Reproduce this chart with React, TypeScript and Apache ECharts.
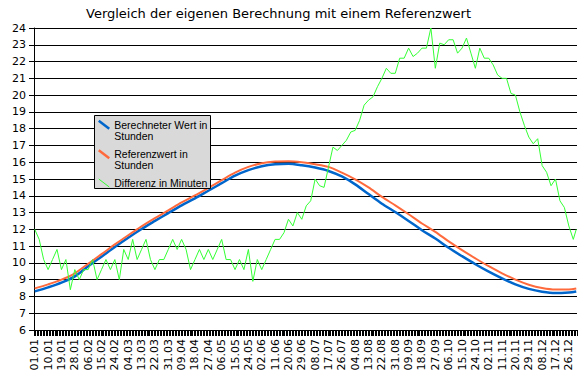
import React, { useEffect, useRef } from "react";
import * as echarts from "echarts";

// leap year calendar (29.02 included)
const monthLengths = [31, 29, 31, 30, 31, 30, 31, 31, 30, 31, 30, 31];
const categories: string[] = [];
monthLengths.forEach((len, m) => {
  for (let d = 1; d <= len; d++) {
    categories.push(String(d).padStart(2, "0") + "." + String(m + 1).padStart(2, "0"));
  }
});

const titleText = "Vergleich der eigenen Berechnung mit einem Referenzwert";
const seriesNames = ["Berechneter Wert in Stunden", "Referenzwert in Stunden", "Differenz in Minuten"];

// smooth curves, read every 9 days (+ last day)
const curveDays = [0, 9, 18, 27, 36, 45, 54, 63, 72, 81, 90, 99, 108, 117, 126, 135, 144, 153, 162, 171, 180, 189, 198, 207, 216, 225, 234, 243, 252, 261, 270, 279, 288, 297, 306, 315, 324, 333, 342, 351, 360, 365];
const computed = [8.30, 8.54, 8.82, 9.20, 9.80, 10.37, 10.95, 11.50, 12.02, 12.50, 12.97, 13.43, 13.85, 14.30, 14.75, 15.20, 15.53, 15.76, 15.88, 15.91, 15.82, 15.68, 15.48, 15.15, 14.68, 14.10, 13.53, 13.03, 12.50, 11.95, 11.45, 10.90, 10.40, 9.92, 9.48, 9.08, 8.72, 8.45, 8.28, 8.20, 8.24, 8.30];
const reference = [8.48, 8.72, 9.00, 9.38, 9.95, 10.52, 11.10, 11.65, 12.18, 12.67, 13.13, 13.60, 14.02, 14.47, 14.93, 15.38, 15.72, 15.94, 16.04, 16.06, 16.00, 15.88, 15.72, 15.38, 14.98, 14.50, 13.93, 13.43, 12.90, 12.35, 11.85, 11.28, 10.76, 10.27, 9.80, 9.38, 9.00, 8.70, 8.50, 8.41, 8.42, 8.48];

// difference in minutes, read every 3 days (+ last day)
const diffDays = [0, 3, 6, 9, 12, 15, 18, 21, 24, 27, 30, 33, 36, 39, 42, 45, 48, 51, 54, 57, 60, 63, 66, 69, 72, 75, 78, 81, 84, 87, 90, 93, 96, 99, 102, 105, 108, 111, 114, 117, 120, 123, 126, 129, 132, 135, 138, 141, 144, 147, 150, 153, 156, 159, 162, 165, 168, 171, 174, 177, 180, 183, 186, 189, 192, 195, 198, 201, 204, 207, 210, 213, 216, 219, 222, 225, 228, 231, 234, 237, 240, 243, 246, 249, 252, 255, 258, 261, 264, 267, 270, 273, 276, 279, 282, 285, 288, 291, 294, 297, 300, 303, 306, 309, 312, 315, 318, 321, 324, 327, 330, 333, 336, 339, 342, 345, 348, 351, 354, 357, 360, 363, 365];
const difference = [12.0, 11.4, 10.2, 9.6, 10.2, 10.8, 9.6, 10.2, 8.4, 9.6, 9.0, 9.6, 9.6, 10.2, 9.0, 9.6, 10.2, 9.6, 10.2, 9.0, 10.8, 10.2, 11.4, 10.2, 10.8, 11.4, 10.2, 9.6, 10.2, 10.2, 10.8, 11.4, 10.8, 11.4, 10.8, 9.6, 10.2, 10.8, 10.2, 10.8, 10.2, 10.8, 11.4, 10.2, 10.2, 9.6, 10.2, 9.6, 10.8, 8.9, 10.2, 9.6, 10.2, 10.8, 11.4, 11.4, 11.8, 12.6, 12.2, 13.0, 12.6, 13.4, 13.7, 15.0, 14.6, 14.5, 15.7, 16.9, 16.7, 17.0, 17.3, 17.8, 17.9, 18.5, 19.4, 19.7, 19.9, 20.5, 21.0, 21.6, 21.3, 21.3, 22.2, 22.2, 22.8, 22.3, 22.5, 22.8, 22.8, 24.0, 21.6, 23.1, 23.0, 23.3, 23.3, 22.5, 22.8, 23.4, 22.5, 21.6, 22.8, 22.2, 22.2, 21.8, 21.2, 21.0, 21.0, 20.1, 20.0, 19.0, 18.2, 17.5, 17.1, 17.4, 15.8, 15.4, 14.6, 15.0, 13.7, 13.3, 12.2, 11.4, 12.0];

const colors = ["#0066cc", "#ff6a3d", "#33ff33"];

export default function App() {
  const ref = useRef<HTMLDivElement>(null);
  useEffect(() => {
    if (!ref.current) return;
    const chart = echarts.init(ref.current, null, { renderer: "svg" });
    const iconPath = "path://M0,0M2.5,1.5L13,9.5M13,22";
    chart.setOption({
      animation: false,
      textStyle: { fontFamily: "DejaVu Sans" },
      title: {
        text: titleText,
        left: 86,
        top: 7,
        padding: 0,
        textStyle: { fontSize: 13, fontWeight: "normal", color: "#000", fontFamily: "DejaVu Sans" },
      },
      grid: { left: 34, right: 10, top: 28, bottom: 49, containLabel: false },
      legend: {
        orient: "vertical",
        left: 95,
        top: 118,
        padding: 0,
        itemGap: 5,
        itemWidth: 13,
        itemHeight: 22,
        z: 6,
        selectedMode: false,
        textStyle: { fontFamily: "Liberation Sans", fontSize: 10.5, lineHeight: 11, color: "#000" },
        formatter: (name: string) => {
          if (name === seriesNames[2]) return name + "\n";
          return name.replace(" Stunden", "\nStunden");
        },
        data: [
          { name: seriesNames[0], icon: iconPath, itemStyle: { color: colors[0], borderColor: colors[0], borderWidth: 2.5 } },
          { name: seriesNames[1], icon: iconPath, itemStyle: { color: colors[1], borderColor: colors[1], borderWidth: 2.5 } },
          { name: seriesNames[2], icon: iconPath, itemStyle: { color: colors[2], borderColor: colors[2], borderWidth: 1 } },
        ],
      },
      graphic: [
        {
          type: "rect",
          z: 5,
          shape: { x: 94.5, y: 115.5, width: 116, height: 73 },
          style: { fill: "#d9d9d9", stroke: "#000", lineWidth: 1 },
        },
      ],
      xAxis: {
        type: "category",
        data: categories,
        boundaryGap: true,
        axisLine: { show: true, lineStyle: { color: "#000", width: 1 } },
        axisTick: { show: true, interval: 0, length: 6, lineStyle: { color: "#000" } },
        axisLabel: { interval: 8, rotate: 90, fontSize: 11, color: "#000", margin: 9, fontFamily: "DejaVu Sans" },
        splitLine: { show: false },
      },
      yAxis: {
        type: "value",
        min: 6,
        max: 24,
        interval: 1,
        axisLine: { show: true, lineStyle: { color: "#000", width: 1 } },
        axisTick: { show: true, length: 5, lineStyle: { color: "#000" } },
        axisLabel: { fontSize: 11, color: "#000", margin: 8, fontFamily: "DejaVu Sans" },
        splitLine: { show: true, lineStyle: { color: "#000", width: 1 } },
      },
      series: [
        {
          name: seriesNames[0],
          type: "line",
          data: curveDays.map((d, i) => [d, computed[i]]),
          symbol: "none",
          smooth: 0.3,
          lineStyle: { color: colors[0], width: 2.5 },
          itemStyle: { color: colors[0] },
          z: 2,
        },
        {
          name: seriesNames[1],
          type: "line",
          data: curveDays.map((d, i) => [d, reference[i]]),
          symbol: "none",
          smooth: 0.3,
          lineStyle: { color: colors[1], width: 2 },
          itemStyle: { color: colors[1] },
          z: 2,
        },
        {
          name: seriesNames[2],
          type: "line",
          data: diffDays.map((d, i) => [d, difference[i]]),
          symbol: "none",
          lineStyle: { color: colors[2], width: 1 },
          itemStyle: { color: colors[2] },
          z: 3,
        },
      ],
    });
    return () => chart.dispose();
  }, []);
  return <div ref={ref} style={{ width: 587, height: 379, position: "absolute", left: 0, top: 0 }} />;
}
